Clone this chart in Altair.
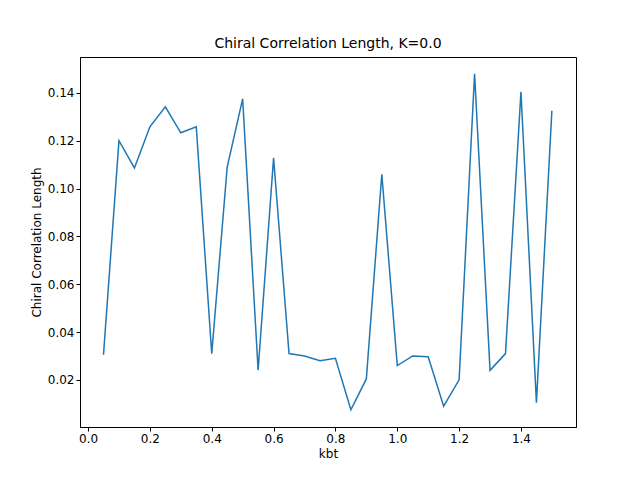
import pandas as pd
import altair as alt

kbt = [round(0.05 * i, 2) for i in range(1, 31)]
corr = [0.0305, 0.120, 0.1086, 0.1258, 0.1342, 0.1233, 0.1258, 0.0309, 0.109, 0.1375,
        0.024, 0.1128, 0.031, 0.030, 0.028, 0.029, 0.0075, 0.0204, 0.106, 0.026,
        0.030, 0.0297, 0.009, 0.020, 0.148, 0.024, 0.031, 0.1404, 0.0105, 0.1325]

df = pd.DataFrame({"kbt": kbt, "corr": corr})

chart = (
    alt.Chart(df)
    .mark_line(color="#1f77b4", strokeWidth=1.5, clip=True)
    .encode(
        x=alt.X("kbt:Q", title="kbt",
                scale=alt.Scale(domain=[-0.026, 1.578], nice=False, zero=False),
                axis=alt.Axis(values=[0, 0.2, 0.4, 0.6, 0.8, 1.0, 1.2, 1.4], format=".1f")),
        y=alt.Y("corr:Q", title="Chiral Correlation Length",
                scale=alt.Scale(domain=[0.0003, 0.155], nice=False, zero=False),
                axis=alt.Axis(values=[0.02, 0.04, 0.06, 0.08, 0.10, 0.12, 0.14], format=".2f")),
    )
    .properties(
        width=496, height=370,
        title="Chiral Correlation Length, K=0.0",
        autosize=alt.AutoSizeParams(type="none"),
        padding={"left": 72, "top": 49, "right": 56, "bottom": 45},
    )
    .configure_view(stroke="black", strokeWidth=1)
    .configure_axis(grid=False, domainColor="black", tickColor="black", labelColor="black",
                    titleColor="black", labelFontSize=12, titleFontSize=12, titleFontWeight="normal",
                    labelFont="DejaVu Sans", titleFont="DejaVu Sans", tickSize=4)
    .configure_title(font="DejaVu Sans", fontSize=14, fontWeight="normal", color="black", offset=6)
)

chart.save("out.html", embed_options={"renderer": "svg", "actions": False})
